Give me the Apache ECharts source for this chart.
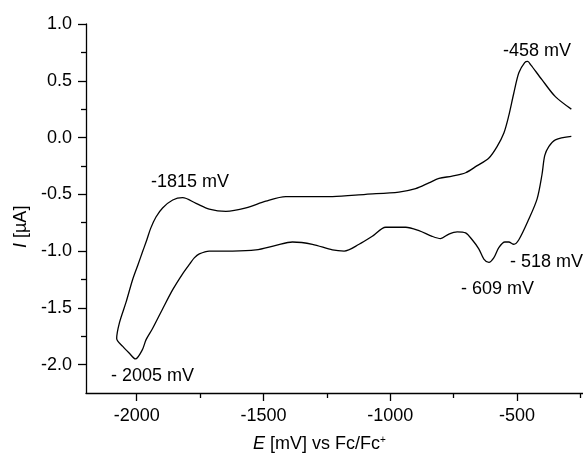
<!DOCTYPE html>
<html>
<head>
<meta charset="utf-8">
<script src="https://cdn.jsdelivr.net/npm/echarts@6/dist/echarts.min.js"></script>
<style>
	html, body { margin: 0; padding: 0; background: #fff; }
	#cv { width: 583px; height: 462px; }
</style>
</head>
<body>
<div id="cv"></div>
<script>
// potential in mV vs Fc/Fc+, current in uA (sweep order)
var potential = [
	-286, -349, -375, -391, -402, -421, -454, -493, -513, -533, -548, -572, -592, -611, -631, -651,
	-677, -703, -736, -769, -802, -835, -887, -939, -966, -1018, -1071, -1123, -1182, -1228, -1307,
	-1386, -1451, -1530, -1622, -1714, -1753, -1773, -1790, -1819, -1858, -1898, -1937, -1963, -1978,
	-2005, -2029, -2055, -2079,
	-2068, -2042, -2016, -1995, -1976, -1960, -1945, -1924, -1898, -1858, -1819, -1766, -1714, -1648,
	-1569, -1491, -1412, -1333, -1228, -1097, -966, -900, -848, -808, -756, -703, -659, -611, -579,
	-552, -533, -513, -493, -470, -458, -446, -402, -349, -286
];
var current = [
	0.01, -0.02, -0.08, -0.16, -0.33, -0.54, -0.72, -0.90, -0.94, -0.92, -0.92, -0.97, -1.06, -1.10, -1.07, -0.98,
	-0.90, -0.84, -0.83, -0.85, -0.89, -0.87, -0.82, -0.79, -0.79, -0.79, -0.87, -0.94, -1.00, -0.99, -0.94,
	-0.92, -0.95, -0.99, -1.00, -1.00, -1.025, -1.06, -1.11, -1.20, -1.34, -1.51, -1.68, -1.78, -1.87,
	-1.95, -1.90, -1.84, -1.77,
	-1.63, -1.45, -1.25, -1.12, -1.00, -0.90, -0.80, -0.70, -0.62, -0.55, -0.53, -0.58, -0.63, -0.65,
	-0.62, -0.56, -0.52, -0.52, -0.52, -0.50, -0.48, -0.45, -0.40, -0.36, -0.34, -0.31, -0.25, -0.18, -0.08,
	0.04, 0.19, 0.39, 0.57, 0.66, 0.67, 0.64, 0.51, 0.36, 0.25
];

var xMajor = [-2000, -1500, -1000, -500];
var xMinor = [-1750, -1250, -750, -250];
var yMajor = [-2.0, -1.5, -1.0, -0.5, 0.0, 0.5, 1.0];
var yMinor = [-1.75, -1.25, -0.75, -0.25, 0.25, 0.75];

var peakLabels = ["-1815 mV", "-458 mV", "- 518 mV", "- 609 mV", "- 2005 mV"];

var FONT = '"Liberation Sans", Arial, sans-serif';
var FS = 18;
var pts = [];
for (var i = 0; i < potential.length; i++) {
	pts.push([potential[i], current[i]]);
}

var chart = echarts.init(document.getElementById('cv'));

var axisBase = {
	type: 'value',
	splitLine: { show: false },
	axisLine: { onZero: false, lineStyle: { color: '#000', width: 1.3 } }
};

chart.setOption({
	animation: false,
	backgroundColor: '#fff',
	grid: { left: 86, top: 24, right: 0, bottom: 69 },
	xAxis: [
		echarts.util.merge({
			min: -2200, max: -240,
			position: 'bottom',
			axisTick: { customValues: xMajor, length: 8, lineStyle: { color: '#000', width: 1.3 } },
			axisLabel: {
				customValues: xMajor, margin: 14, color: '#000', fontSize: FS, fontFamily: FONT,
				formatter: function(v) { return String(v); }
			}
		}, axisBase),
		echarts.util.merge({
			min: -2200, max: -240,
			position: 'bottom',
			offset: 0,
			axisLine: { show: false },
			axisTick: { customValues: xMinor, length: 5, lineStyle: { color: '#000', width: 1.3 } },
			axisLabel: { show: false }
		}, axisBase)
	],
	yAxis: [
		echarts.util.merge({
			min: -2.25, max: 1.0,
			position: 'left',
			axisTick: { customValues: yMajor, length: 8, lineStyle: { color: '#000', width: 1.3 } },
			axisLabel: {
				customValues: yMajor, margin: 14, color: '#000', fontSize: FS, fontFamily: FONT,
				formatter: function(v) { return v.toFixed(1); }
			}
		}, axisBase),
		echarts.util.merge({
			min: -2.25, max: 1.0,
			position: 'left',
			offset: 0,
			axisLine: { show: false },
			axisTick: { customValues: yMinor, length: 5, lineStyle: { color: '#000', width: 1.3 } },
			axisLabel: { show: false }
		}, axisBase)
	],
	series: [{
		type: 'line',
		data: pts,
		showSymbol: false,
		smooth: 0.3,
		lineStyle: { color: '#000', width: 1.3 }
	}],
	graphic: [
		{ type: 'text', left: 151, top: 173, style: { text: peakLabels[0], font: FS + 'px ' + FONT, fill: '#000' } },
		{ type: 'text', left: 503, top: 42, style: { text: peakLabels[1], font: FS + 'px ' + FONT, fill: '#000' } },
		{ type: 'text', left: 510, top: 253, style: { text: peakLabels[2], font: FS + 'px ' + FONT, fill: '#000' } },
		{ type: 'text', left: 461, top: 280, style: { text: peakLabels[3], font: FS + 'px ' + FONT, fill: '#000' } },
		{ type: 'text', left: 111, top: 367, style: { text: peakLabels[4], font: FS + 'px ' + FONT, fill: '#000' } },
		{
			type: 'text', left: 253, top: 435,
			style: {
				text: '{i|E} [mV] vs Fc/Fc{s|+}',
				font: FS + 'px ' + FONT, fill: '#000',
				rich: {
					i: { fontStyle: 'italic', fontSize: FS, fontFamily: FONT },
					s: { fontSize: 10, fontFamily: FONT, verticalAlign: 'top' }
				}
			}
		},
		{
			type: 'text', x: 12, y: 248, rotation: Math.PI / 2,
			style: {
				text: '{i|I} [\u00b5A]',
				font: FS + 'px ' + FONT, fill: '#000',
				rich: { i: { fontStyle: 'italic', fontSize: FS, fontFamily: FONT } }
			}
		}
	]
});
</script>
</body>
</html>
